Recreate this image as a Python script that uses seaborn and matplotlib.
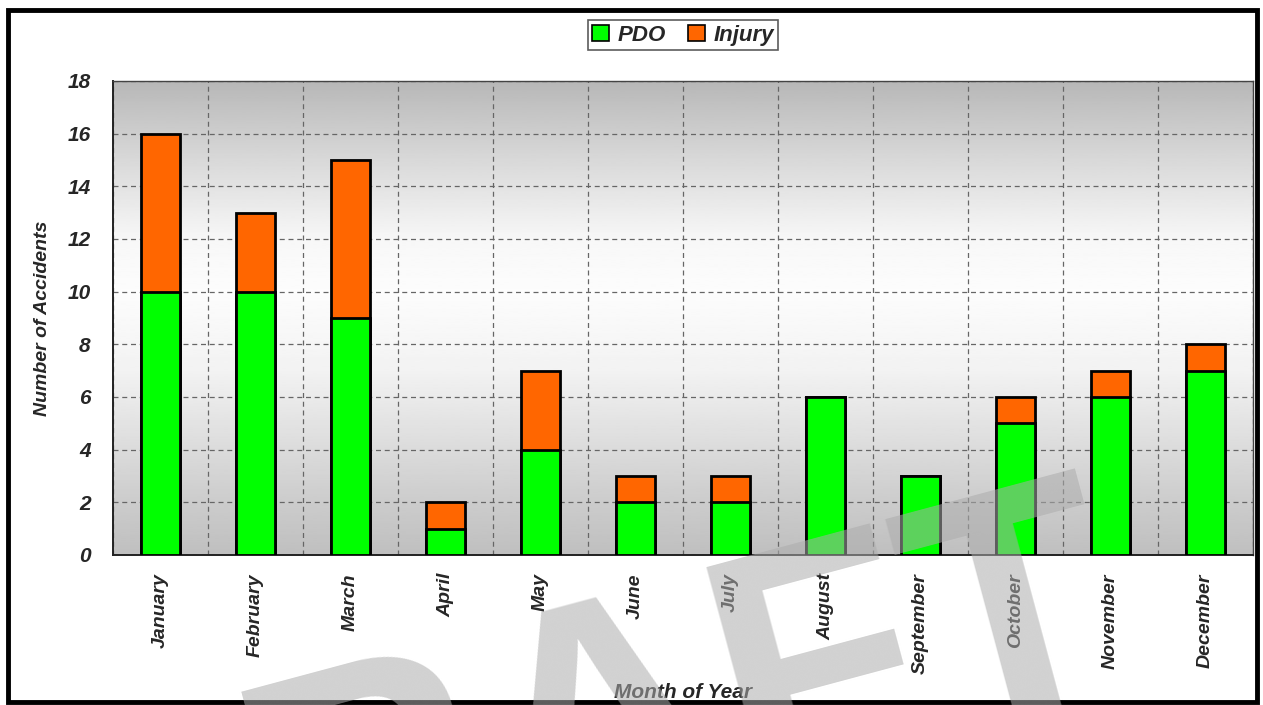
import matplotlib
matplotlib.use("Agg")
import matplotlib.pyplot as plt
import numpy as np
import pandas as pd
import seaborn as sns
from matplotlib.patches import Rectangle, Patch

# Data
months = ['January', 'February', 'March', 'April', 'May', 'June',
          'July', 'August', 'September', 'October', 'November', 'December']
pdo = [10, 10, 9, 1, 4, 2, 2, 6, 3, 5, 6, 7]
injury = [6, 3, 6, 1, 3, 1, 1, 0, 0, 1, 1, 1]
y_ticks = [0, 2, 4, 6, 8, 10, 12, 14, 16, 18]

df = pd.DataFrame({'Month': months, 'PDO': pdo, 'Injury': injury})
df['Total'] = df['PDO'] + df['Injury']

GREEN = '#00ff00'
ORANGE = '#ff6600'
BOLD_IT = dict(family=['Liberation Sans', 'DejaVu Sans'], weight='bold', style='italic')
NARROW = dict(family=['Liberation Sans Narrow', 'Liberation Sans', 'DejaVu Sans'],
              weight='bold', style='italic')

sns.set_style('white')
W, H = 1263, 705
fig = plt.figure(figsize=(W / 100, H / 100), dpi=100)
ax = fig.add_axes([113 / W, 1 - 555 / H, (1253 - 113) / W, (555 - 81) / H])

# gradient background (gray - white - gray)
stops_y = [0, 2, 4, 7, 10, 12, 15, 18]
stops_v = [0.75, 0.80, 0.86, 0.95, 0.99, 0.97, 0.85, 0.72]
yy = np.linspace(0, 18, 300)
grad = np.interp(yy, stops_y, stops_v)[::-1].reshape(-1, 1)
ax.imshow(grad, extent=[-0.5, 11.5, 0, 18], aspect='auto', cmap='gray',
          vmin=0, vmax=1, zorder=0, interpolation='bilinear')

# stacked bars: total (orange) then PDO (green) on top
sns.barplot(data=df, x='Month', y='Total', color=ORANGE, width=0.42,
            edgecolor='black', linewidth=2, saturation=1, ax=ax, zorder=2)
sns.barplot(data=df, x='Month', y='PDO', color=GREEN, width=0.42,
            edgecolor='black', linewidth=2, saturation=1, ax=ax, zorder=3)

ax.set_xlim(-0.5, 11.5)
ax.set_ylim(0, 18)
ax.set_yticks(y_ticks)
ax.set_yticklabels([str(v) for v in y_ticks], fontsize=15, **BOLD_IT)
ax.set_xticks(range(len(months)))
ax.set_xticklabels(months, rotation=90, fontsize=14, **NARROW)
ax.tick_params(axis='x', which='major', length=0, pad=13)
ax.set_xticks(np.arange(-0.5, 12, 1), minor=True)
ax.tick_params(axis='x', which='minor', length=7, width=1.2, color='#333333')
ax.tick_params(axis='y', which='major', length=7, width=1.2, color='#333333', pad=9)

ax.set_axisbelow(True)
ax.grid(False)
ax.yaxis.grid(True, linestyle=(0, (4, 3)), color='#666666', linewidth=0.9)
ax.xaxis.grid(True, which='minor', linestyle=(0, (4, 3)), color='#666666', linewidth=0.9)

for s in ax.spines.values():
    s.set_visible(True)
    s.set_color('#444444')
    s.set_linewidth(1.0)
ax.spines['left'].set_color('#222222')
ax.spines['bottom'].set_color('#222222')
ax.spines['left'].set_linewidth(1.4)
ax.spines['bottom'].set_linewidth(1.4)

ax.set_ylabel('Number of Accidents', fontsize=14, labelpad=12, **NARROW)
ax.set_xlabel('Month of Year', fontsize=15, **BOLD_IT)
ax.xaxis.set_label_coords(0.5, -0.27)

handles = [Patch(facecolor=GREEN, edgecolor='black', linewidth=1.2, label='PDO'),
           Patch(facecolor=ORANGE, edgecolor='black', linewidth=1.2, label='Injury')]
leg = fig.legend(handles=handles, loc='upper center', bbox_to_anchor=(683 / W, 1 - 9 / H),
                 ncol=2, frameon=True, fancybox=False, edgecolor='#333333',
                 handlelength=0.75, handleheight=0.75, handletextpad=0.4, columnspacing=1.0,
                 borderpad=0.2, prop=dict(size=16, **BOLD_IT))
leg.get_frame().set_linewidth(1.2)

# figure frame
fig.patches.append(Rectangle((8 / W, 3 / H), (1257 - 8) / W, (H - 10 - 3) / H,
                             transform=fig.transFigure, fill=False,
                             edgecolor='black', linewidth=3.5, zorder=10))

# DRAFT watermark
fig.text(570 / W, 1 - 745 / H, 'DRAFT', fontsize=240, weight='bold',
         family=['Liberation Sans', 'DejaVu Sans'], color='#acacac', alpha=0.55,
         rotation=15, rotation_mode='anchor', ha='center', va='center', zorder=20)

fig.savefig('out.png', dpi=100)
